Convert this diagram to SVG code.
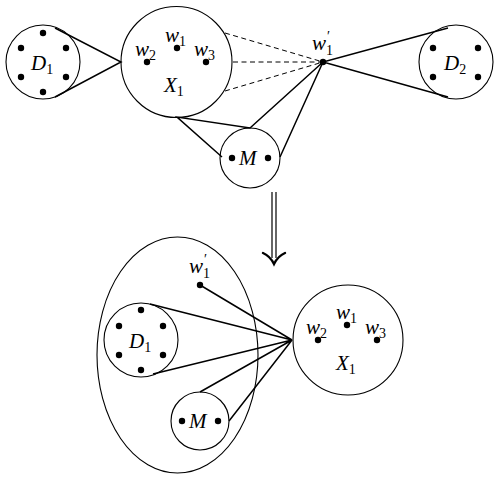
<svg xmlns="http://www.w3.org/2000/svg" width="500" height="480" viewBox="0 0 500 480">
<style>
.c{fill:none;stroke:#000;stroke-width:1.1}
.e{fill:none;stroke:#000;stroke-width:1.5}
.d{fill:none;stroke:#000;stroke-width:1;stroke-dasharray:5,3.5}
.t{font-family:"Liberation Serif","DejaVu Serif",serif;font-style:italic;font-size:21px;fill:#000}
.s{font-family:"Liberation Serif","DejaVu Serif",serif;font-style:normal;font-size:14px;fill:#000}
</style>
<defs><circle id="p" r="3.2" fill="#000"/></defs>
<rect width="500" height="480" fill="#fff"/>
<g id="connectors">
<path class="e" d="M55 28 L121 62 L55 97"/>
<path class="d" d="M225 33 L323 62 M233 62 L323 62 M225 91 L323 62"/>
<path class="e" d="M448 28 L323 62 L448 97"/>
<path class="e" d="M222 157 L177 117 L250 128 L323 62 L280 157"/>
<path class="e" d="M200 285 L292 340 M150 304 L292 340 L153 374 M200 392 L292 340 L229 421"/>
<g id="arrow">
<path fill="none" stroke="#000" stroke-width="1.2" d="M272 192 V258 M276 192 V258"/>
<path fill="none" stroke="#000" stroke-width="2.4" stroke-linecap="round" d="M263 253 Q270 256 274 264 Q278 256 285 253"/>
</g>
</g>
<g id="D1top">
<circle class="c" cx="43" cy="62" r="37"/>
<use href="#p" x="43" y="33"/><use href="#p" x="21" y="48"/><use href="#p" x="66" y="48"/>
<use href="#p" x="21" y="77"/><use href="#p" x="66" y="77"/><use href="#p" x="43" y="92"/>
<text class="t" x="31" y="70">D<tspan class="s" dy="4">1</tspan></text>
</g>
<g id="X1top">
<circle class="c" cx="176.5" cy="62" r="55.5"/>
<use href="#p" x="177" y="48"/><use href="#p" x="147" y="62"/><use href="#p" x="206" y="62"/>
<text class="t" x="165" y="42">w<tspan class="s" dy="4">1</tspan></text>
<text class="t" x="135" y="56">w<tspan class="s" dy="4">2</tspan></text>
<text class="t" x="194" y="56">w<tspan class="s" dy="4">3</tspan></text>
<text class="t" x="164" y="92">X<tspan class="s" dy="4">1</tspan></text>
</g>
<g id="w1p">
<use href="#p" x="323" y="62"/>
<text class="t" x="312" y="50">w</text>
<text class="s" x="327" y="41">′</text>
<text class="s" x="326" y="55">1</text>
</g>
<g id="D2">
<circle class="c" cx="456" cy="62" r="37"/>
<use href="#p" x="433" y="48"/><use href="#p" x="478" y="48"/>
<use href="#p" x="433" y="77"/><use href="#p" x="478" y="77"/>
<text class="t" x="444" y="70">D<tspan class="s" dy="4">2</tspan></text>
</g>
<g id="Mtop">
<circle class="c" cx="250" cy="158" r="30"/>
<use href="#p" x="232" y="158"/><use href="#p" x="268" y="158"/>
<text class="t" x="239" y="165">M</text>
</g>
<g id="group">
<ellipse class="c" cx="177.5" cy="355" rx="80.5" ry="118"/>
</g>
<g id="w1pb">
<use href="#p" x="200" y="285"/>
<text class="t" x="189" y="273">w</text>
<text class="s" x="204" y="264">′</text>
<text class="s" x="203" y="278">1</text>
</g>
<g id="D1bot">
<circle class="c" cx="141" cy="340" r="37"/>
<use href="#p" x="141" y="310"/><use href="#p" x="119" y="326"/><use href="#p" x="163" y="326"/>
<use href="#p" x="119" y="355"/><use href="#p" x="163" y="355"/><use href="#p" x="141" y="370"/>
<text class="t" x="129" y="348">D<tspan class="s" dy="4">1</tspan></text>
</g>
<g id="Mbot">
<circle class="c" cx="200" cy="421" r="29"/>
<use href="#p" x="182" y="421"/><use href="#p" x="218" y="421"/>
<text class="t" x="189" y="428">M</text>
</g>
<g id="X1bot">
<circle class="c" cx="348" cy="340" r="55"/>
<use href="#p" x="347" y="325"/><use href="#p" x="318" y="340"/><use href="#p" x="377" y="340"/>
<text class="t" x="336" y="319">w<tspan class="s" dy="4">1</tspan></text>
<text class="t" x="306" y="334">w<tspan class="s" dy="4">2</tspan></text>
<text class="t" x="365" y="334">w<tspan class="s" dy="4">3</tspan></text>
<text class="t" x="336" y="370">X<tspan class="s" dy="4">1</tspan></text>
</g>
</svg>
